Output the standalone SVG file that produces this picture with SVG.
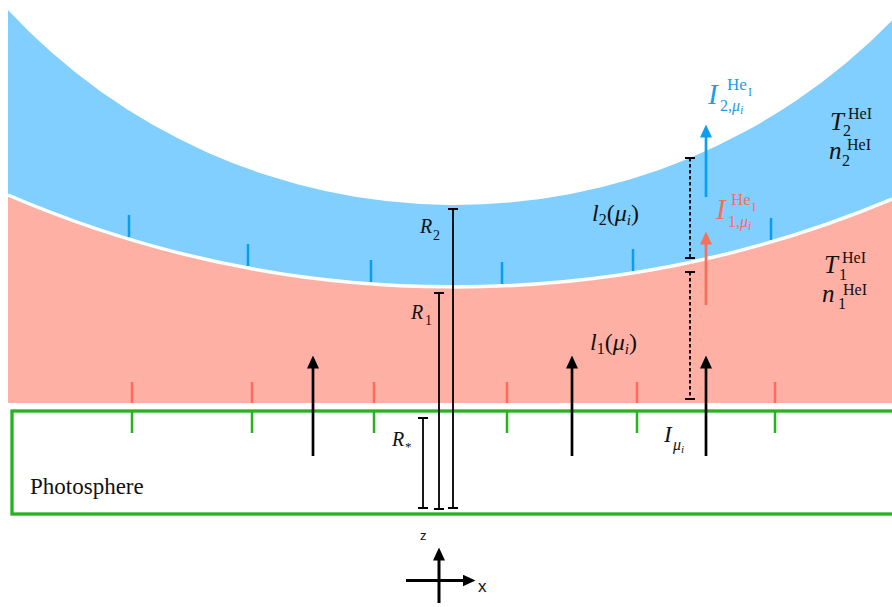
<svg xmlns="http://www.w3.org/2000/svg" width="892" height="607" viewBox="0 0 892 607">
<style>
.m{font-family:'Liberation Serif','DejaVu Serif','Noto Serif',serif;}
.it{font-style:italic;}
.sans{font-family:'Liberation Sans','DejaVu Sans',sans-serif;}
.tb{stroke:#079df0;stroke-width:2.5;}
.tr{stroke:#ff6b5b;stroke-width:2.5;}
.tg{stroke:#25b31e;stroke-width:2.5;}
.dim{stroke:#000;stroke-width:1.8;fill:none;}
.dot{stroke:#000;stroke-width:1.8;stroke-dasharray:3.5 2.5;fill:none;}
.arr{stroke:#000;stroke-width:2.7;fill:none;}
</style>
<defs>
<marker id="hk" viewBox="0 0 13 12" markerWidth="13" markerHeight="12" refX="0.5" refY="6" orient="auto" markerUnits="userSpaceOnUse"><path d="M0,0 L13,6 L0,12 Z" fill="#000"/></marker>
<marker id="hb" viewBox="0 0 13 12" markerWidth="13" markerHeight="12" refX="0.5" refY="6" orient="auto" markerUnits="userSpaceOnUse"><path d="M0,0 L13,6 L0,12 Z" fill="#0a9ff0"/></marker>
<marker id="hr" viewBox="0 0 13 12" markerWidth="13" markerHeight="12" refX="0.5" refY="6" orient="auto" markerUnits="userSpaceOnUse"><path d="M0,0 L13,6 L0,12 Z" fill="#f6705a"/></marker>
</defs>
<rect width="892" height="607" fill="#fff"/>
<g id="shell2">
<path d="M8,10 A609.8,609.8 0 0 0 892,20.5 L892,199 A1131.9,1131.9 0 0 1 8,195 Z" fill="#80cfff"/>
<line class="tb" x1="129" y1="215" x2="129" y2="237"/>
<line class="tb" x1="248" y1="244" x2="248" y2="266"/>
<line class="tb" x1="371" y1="260" x2="371" y2="282"/>
<line class="tb" x1="502" y1="262" x2="502" y2="284"/>
<line class="tb" x1="633" y1="249" x2="633" y2="271"/>
<line class="tb" x1="771" y1="218" x2="771" y2="240"/>
</g>
<g id="shell1">
<path d="M8,195 A1131.9,1131.9 0 0 0 892,199 L892,403 L8,403 Z" fill="#ffb0a5"/>
<path d="M8,195 A1131.9,1131.9 0 0 0 892,199" fill="none" stroke="#fff" stroke-width="3.5"/>
<line class="tr" x1="132" y1="382" x2="132" y2="403"/>
<line class="tr" x1="252" y1="382" x2="252" y2="403"/>
<line class="tr" x1="374" y1="382" x2="374" y2="403"/>
<line class="tr" x1="507" y1="382" x2="507" y2="403"/>
<line class="tr" x1="637" y1="382" x2="637" y2="403"/>
<line class="tr" x1="775" y1="382" x2="775" y2="403"/>
</g>
<g id="photosphere">
<rect x="12" y="411" width="900" height="103" fill="none" stroke="#25b31e" stroke-width="3.3"/>
<line class="tg" x1="132" y1="411" x2="132" y2="433"/>
<line class="tg" x1="252" y1="411" x2="252" y2="433"/>
<line class="tg" x1="374" y1="411" x2="374" y2="433"/>
<line class="tg" x1="507" y1="411" x2="507" y2="433"/>
<line class="tg" x1="637" y1="411" x2="637" y2="433"/>
<line class="tg" x1="775" y1="411" x2="775" y2="433"/>
<text x="30" y="494" font-family="'Liberation Serif','DejaVu Serif',serif" font-size="23" fill="#111">Photosphere</text>
</g>
<g id="connectors">
<line class="arr" x1="313" y1="456" x2="313" y2="368" marker-end="url(#hk)"/>
<line class="arr" x1="572" y1="456" x2="572" y2="368" marker-end="url(#hk)"/>
<line class="arr" x1="706" y1="456" x2="706" y2="368" marker-end="url(#hk)"/>
<line x1="706" y1="305" x2="706" y2="244" stroke="#f6705a" stroke-width="2.7" marker-end="url(#hr)"/>
<line x1="706" y1="197" x2="706" y2="137" stroke="#0a9ff0" stroke-width="2.7" marker-end="url(#hb)"/>
<line class="dot" x1="690" y1="158" x2="690" y2="258"/>
<path class="dim" d="M685,158 H695 M685,258 H695"/>
<line class="dot" x1="690" y1="272" x2="690" y2="399"/>
<path class="dim" d="M685,272 H695 M685,399 H695"/>
<path class="dim" d="M453,209 V508 M448,209 H458 M448,508 H458"/>
<path class="dim" d="M439,293 V509 M434,293 H444 M434,509 H444"/>
<path class="dim" stroke-width="1.5" d="M423,418 V508 M418,418 H428 M418,508 H428"/>
<line x1="439" y1="603" x2="439" y2="560" stroke="#000" stroke-width="3" marker-end="url(#hk)"/>
<line x1="406" y1="580.5" x2="463" y2="580.5" stroke="#000" stroke-width="3" marker-end="url(#hk)"/>
</g>
<g id="labels" font-family="'Liberation Serif','DejaVu Serif',serif" fill="#111">
<text font-size="20"><tspan x="420" y="233" class="it">R</tspan><tspan x="433" y="240" font-size="14">2</tspan></text>
<text font-size="20"><tspan x="411" y="319" class="it">R</tspan><tspan x="425" y="325" font-size="14">1</tspan></text>
<text font-size="20"><tspan x="392" y="446" class="it">R</tspan><tspan x="405" y="451" font-size="13">*</tspan></text>
<text font-size="24"><tspan x="592" y="221" class="it">l</tspan><tspan dy="4" font-size="16">2</tspan><tspan dy="-4">(</tspan><tspan class="it">μ</tspan><tspan dy="4" font-size="15" class="it">i</tspan><tspan dy="-4">)</tspan></text>
<text font-size="24"><tspan x="590" y="350" class="it">l</tspan><tspan dy="4" font-size="16">1</tspan><tspan dy="-4">(</tspan><tspan class="it">μ</tspan><tspan dy="4" font-size="15" class="it">i</tspan><tspan dy="-4">)</tspan></text>
<text font-size="16"><tspan x="664" y="442" font-size="23" class="it">I</tspan><tspan x="673" y="450" class="it">μ</tspan><tspan dy="3" font-size="11" class="it">i</tspan></text>
<text font-size="16"><tspan x="830" y="130" font-size="25" class="it">T</tspan><tspan x="848" y="119">HeI</tspan><tspan x="843" y="136">2</tspan></text>
<text font-size="16"><tspan x="829" y="159" font-size="25" class="it">n</tspan><tspan x="847" y="150">HeI</tspan><tspan x="842" y="166">2</tspan></text>
<text font-size="16"><tspan x="824" y="273" font-size="25" class="it">T</tspan><tspan x="842" y="263">HeI</tspan><tspan x="839" y="280">1</tspan></text>
<text font-size="16"><tspan x="822" y="302" font-size="25" class="it">n</tspan><tspan x="843" y="295">HeI</tspan><tspan x="838" y="309">1</tspan></text>
<text font-size="16" fill="#1a9cf0"><tspan x="708" y="104" font-size="29" class="it">I</tspan><tspan x="727" y="90" font-size="17">He</tspan><tspan x="748" y="96" font-size="12">I</tspan><tspan x="720" y="111">2,</tspan><tspan class="it">μ</tspan><tspan dy="3" font-size="12" class="it">i</tspan></text>
<text font-size="16" fill="#f5705c"><tspan x="716" y="219" font-size="29" class="it">I</tspan><tspan x="731" y="205" font-size="17">He</tspan><tspan x="752" y="211" font-size="12">I</tspan><tspan x="728" y="227">1,</tspan><tspan class="it">μ</tspan><tspan dy="3" font-size="12" class="it">i</tspan></text>
<text class="sans" x="420" y="540" font-size="13">z</text>
<text class="sans" x="478" y="592" font-size="17">x</text>
</g>
</svg>
